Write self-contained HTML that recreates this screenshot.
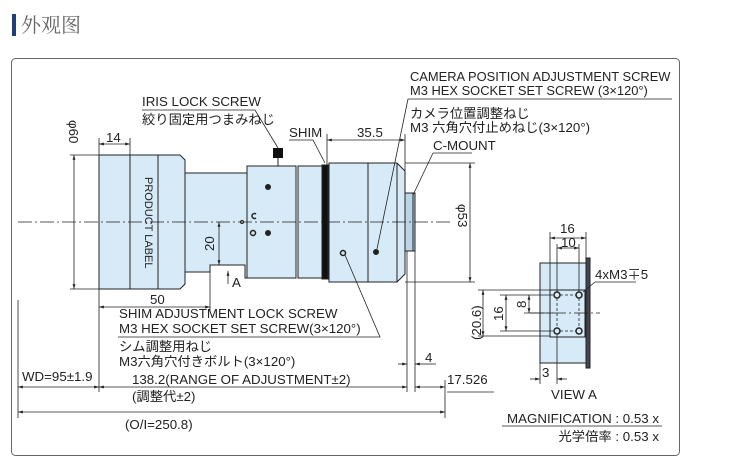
<!DOCTYPE html>
<html><head><meta charset="utf-8"><style>
body{margin:0;background:#fff;width:756px;height:471px;overflow:hidden}
svg{display:block}
text{font-family:"Liberation Sans","Noto Sans CJK JP",sans-serif;fill:#222}
</style></head><body>
<svg width="756" height="471" viewBox="0 0 756 471" xmlns="http://www.w3.org/2000/svg">
<defs>
<marker id="a" viewBox="0 0 10 10" refX="10" refY="5" markerWidth="6" markerHeight="6" orient="auto-start-reverse"><path d="M0,2 L10,5 L0,8 z" fill="#222"/></marker>
</defs>
<rect x="12" y="14" width="4" height="22" fill="#1f3f7a"/>
<text x="21" y="32" font-size="20" style="fill:#666;font-family:'Noto Serif CJK SC',serif">外观图</text>
<rect x="11.5" y="58.5" width="668" height="397" rx="4" fill="#fff" stroke="#666" stroke-width="1"/>

<g stroke="#222" stroke-width="1" fill="#d6eaf7">
<path d="M99,155 H180 L185,160 V284 L180,289 H99 Z"/>
<line x1="130" y1="155" x2="130" y2="289"/><line x1="158" y1="155" x2="158" y2="289"/>
<path d="M185,173 H247 V278 H245 V265 H210 V272 H185 Z"/>
<rect x="247" y="166" width="49" height="112"/>
<rect x="298" y="166" width="24" height="112"/>
<rect x="322" y="165" width="6" height="114" fill="#111"/>
<path d="M329,163 H397 L405,171 V274 L397,282 H329 Z"/>
<line x1="368" y1="163" x2="368" y2="282"/><line x1="397" y1="163" x2="397" y2="282"/>
<rect x="405" y="193" width="10" height="58" fill="#bcd5e6"/>
<line x1="413" y1="193" x2="413" y2="251"/>
<rect x="540" y="263" width="46" height="100"/>
<rect x="550" y="290" width="35" height="47" fill="none"/>
<rect x="586" y="258" width="4" height="110" fill="#445"/>
</g>
<rect x="273" y="148" width="10" height="10" fill="#111"/><line x1="278" y1="158" x2="278" y2="166" stroke="#222"/>
<text x="145" y="177" font-size="11" transform="rotate(90 145 177)">PRODUCT LABEL</text>
<g fill="#222"><circle cx="268" cy="187" r="3"/><circle cx="268" cy="233" r="3"/><circle cx="376" cy="252" r="3"/></g>
<g fill="none" stroke="#222" stroke-width="1.5"><circle cx="253" cy="233" r="2.5"/><path d="M256,214 A2.5,2.5 0 1 0 256,218"/><circle cx="343" cy="253" r="2.5"/></g>
<circle cx="242" cy="222" r="1.5" fill="#fff" stroke="#222"/>
<line x1="18" y1="222" x2="450" y2="222" stroke="#222" stroke-width="0.8" stroke-dasharray="14,3,2,3"/>
<line x1="530" y1="313" x2="600" y2="313" stroke="#222" stroke-width="0.8" stroke-dasharray="14,3,2,3"/>
<g><circle cx="557" cy="295" r="3" fill="none" stroke="#222" stroke-width="1.5"/><circle cx="579" cy="295" r="3" fill="none" stroke="#222" stroke-width="1.5"/><circle cx="557" cy="331" r="3" fill="none" stroke="#222" stroke-width="1.5"/><circle cx="579" cy="331" r="3" fill="none" stroke="#222" stroke-width="1.5"/></g>
<path d="M560,295H576M560,331H576M557,298V328M579,298V328" stroke="#222" stroke-width="0.8" stroke-dasharray="3,2" fill="none"/>

<g stroke="#222" stroke-width="0.8" fill="none">
<line x1="74" y1="155" x2="74" y2="289" marker-start="url(#a)" marker-end="url(#a)"/>
<path d="M70,155H99M70,289H99M99,138V155M130,138V155"/>
<line x1="99" y1="144" x2="130" y2="144" marker-start="url(#a)" marker-end="url(#a)"/>
<line x1="219" y1="222" x2="219" y2="265" marker-start="url(#a)" marker-end="url(#a)"/>
<line x1="228" y1="284" x2="228" y2="271" marker-end="url(#a)"/>
<path d="M210,272V312M99,289V392"/>
<line x1="99" y1="307" x2="210" y2="307" marker-start="url(#a)" marker-end="url(#a)"/>
<path d="M327,165V134M405,171V134M405,163H475M405,282H475M407,251V392M415,251V392M445,380V418M18,300V418"/>
<line x1="327" y1="140" x2="405" y2="140" marker-start="url(#a)" marker-end="url(#a)"/>
<line x1="470" y1="163" x2="470" y2="282" marker-start="url(#a)" marker-end="url(#a)"/>
<line x1="398" y1="364" x2="407" y2="364" marker-end="url(#a)"/><line x1="424" y1="364" x2="415" y2="364" marker-end="url(#a)"/><path d="M424,364H436"/>
<line x1="18" y1="387" x2="99" y2="387" marker-start="url(#a)" marker-end="url(#a)"/>
<line x1="99" y1="387" x2="407" y2="387" marker-start="url(#a)" marker-end="url(#a)"/>
<line x1="415" y1="387" x2="445" y2="387" marker-start="url(#a)" marker-end="url(#a)"/>
<line x1="18" y1="412" x2="445" y2="412" marker-start="url(#a)" marker-end="url(#a)"/>
<path d="M118,337H380L345,255M142,110H255L278,148M289,140H313L325,163M408,99H672M408,99L377,249M433,153H472M433,153L413,195M447,392H494M502,426H662M595,282H636M595,282L583,292"/>
<path d="M550,232V290M586,232V258M557,244V292M579,244V292M478,290H550M478,336H550M500,295H553M500,331H553M524,313H553M540,363V384M557,334V384"/>
<line x1="550" y1="238" x2="586" y2="238" marker-start="url(#a)" marker-end="url(#a)"/>
<line x1="557" y1="248" x2="579" y2="248" marker-start="url(#a)" marker-end="url(#a)"/>
<line x1="483" y1="290" x2="483" y2="336" marker-start="url(#a)" marker-end="url(#a)"/>
<line x1="506" y1="295" x2="506" y2="331" marker-start="url(#a)" marker-end="url(#a)"/>
<line x1="529" y1="295" x2="529" y2="313" marker-start="url(#a)" marker-end="url(#a)"/>
<line x1="530" y1="379" x2="540" y2="379" marker-end="url(#a)"/><line x1="567" y1="379" x2="557" y2="379" marker-end="url(#a)"/>
</g>

<g font-size="13.3">
<text x="69" y="120" transform="rotate(90 69 120)">φ60</text>
<text x="106" y="142">14</text>
<text x="214" y="251" transform="rotate(-90 214 251)">20</text>
<text x="232" y="287">A</text>
<text x="150" y="304">50</text>
<text x="357" y="137">35.5</text>
<text x="458" y="204" transform="rotate(90 458 204)">φ53</text>
<text x="425" y="362">4</text>
<text x="22" y="381">WD=95±1.9</text>
<text x="132" y="384">138.2(RANGE OF ADJUSTMENT±2)</text>
<text x="447" y="384">17.526</text>
<text x="132" y="401">(調整代±2)</text>
<text x="125" y="429">(O/I=250.8)</text>
<text x="119" y="318">SHIM ADJUSTMENT LOCK SCREW</text>
<text x="119" y="333">M3 HEX SOCKET SET SCREW(3×120°)</text>
<text x="119" y="351">シム調整用ねじ</text>
<text x="119" y="366">M3六角穴付きボルト(3×120°)</text>
<text x="142" y="106">IRIS LOCK SCREW</text>
<text x="142" y="124">絞り固定用つまみねじ</text>
<text x="289" y="137">SHIM</text>
<text x="410" y="81" font-size="12.9">CAMERA POSITION ADJUSTMENT SCREW</text>
<text x="410" y="95" font-size="12.9">M3 HEX SOCKET SET SCREW (3×120°)</text>
<text x="410" y="118">カメラ位置調整ねじ</text>
<text x="410" y="132">M3 六角穴付止めねじ(3×120°)</text>
<text x="433" y="150">C-MOUNT</text>
<text x="560" y="233">16</text>
<text x="561" y="247">10</text>
<text x="595" y="279">4xM3∓5</text>
<text x="481" y="340" transform="rotate(-90 481 340)">(20.6)</text>
<text x="503" y="321" transform="rotate(-90 503 321)">16</text>
<text x="526" y="308" transform="rotate(-90 526 308)">8</text>
<text x="542" y="377">3</text>
<text x="551" y="399">VIEW A</text>
<text x="659" y="423" text-anchor="end">MAGNIFICATION : 0.53 x</text>
<text x="659" y="441" text-anchor="end">光学倍率 : 0.53 x</text>
</g>
</svg>
</body></html>
